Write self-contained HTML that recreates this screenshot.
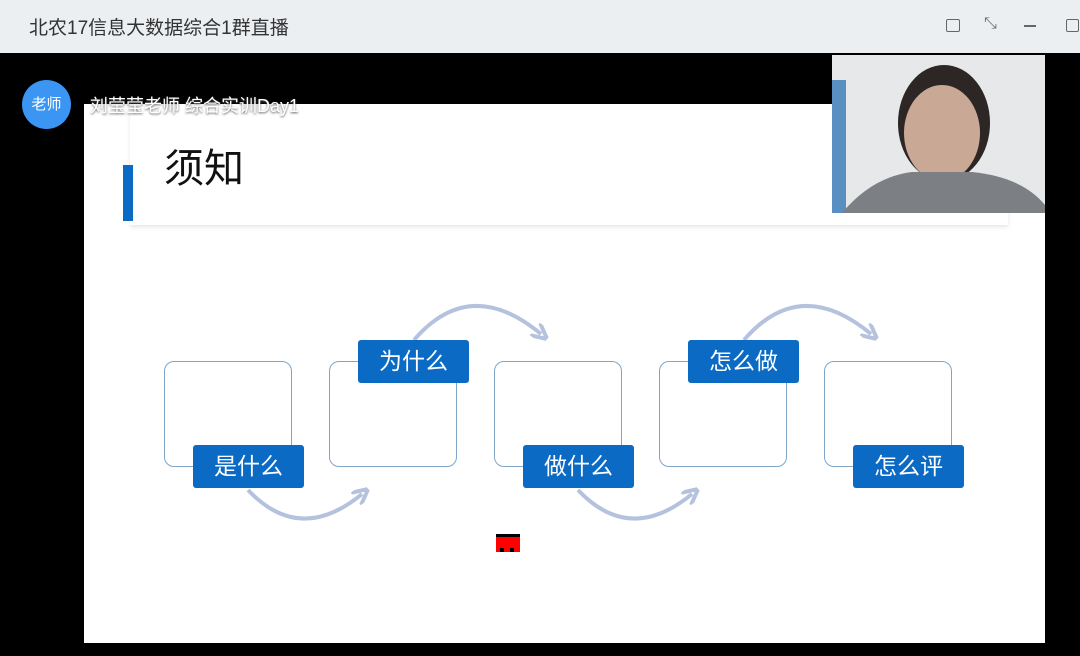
<!DOCTYPE html><html><head><meta charset="utf-8"><style>
body{margin:0;width:1080px;height:656px;overflow:hidden;background:#000;font-family:"Liberation Sans","Noto Sans CJK SC",sans-serif;position:relative}
.a{position:absolute}
.box{position:absolute;border:1.3px solid #7fa6c8;border-radius:10px;width:126px;height:104px;background:#fff;top:361px}
.lab{position:absolute;background:#0b6bc4;color:#fff;width:111px;height:43px;border-radius:3px;font-size:23px;line-height:43px;text-align:center}
</style></head><body>
<div class="a" style="left:0;top:0;width:1080px;height:53px;background:#eceff2"></div>
<div class="a" style="left:29px;top:13px;font-size:19px;color:#333">北农17信息大数据综合1群直播</div>
<div class="a" style="left:946px;top:19px;width:12px;height:11px;border:1.5px solid #666;border-radius:2px"></div>
<div class="a" style="left:984px;top:15px;font-size:16px;color:#666">⤡</div>
<div class="a" style="left:1024px;top:25px;width:12px;height:1.5px;background:#666"></div>
<div class="a" style="left:1066px;top:19px;width:11px;height:11px;border:1.5px solid #666;border-radius:2px"></div>
<div class="a" style="left:84px;top:104px;width:961px;height:539px;background:#fff"></div>
<div class="a" style="left:130px;top:104px;width:878px;height:121px;background:#fff;box-shadow:0 2px 4px rgba(0,0,0,0.1)"></div>
<div class="a" style="left:123px;top:165px;width:10px;height:56px;background:#0b6bc4"></div>
<div class="a" style="left:164px;top:136px;font-size:40px;color:#111">须知</div>
<div class="a" style="left:22px;top:80px;width:49px;height:49px;border-radius:50%;background:#3a96f2;color:#fff;font-size:15px;line-height:49px;text-align:center">老师</div>
<div class="a" style="left:90px;top:92px;font-size:18px;color:#fff;text-shadow:0 1px 2px #555">刘莹莹老师 综合实训Day1</div>
<svg class="a" style="left:0;top:0" width="1080" height="656">
<defs><marker id="m" markerWidth="4" markerHeight="4" refX="2" refY="2" orient="auto"><path d="M0,0 L4,2 L0,4" fill="none" stroke="#b5c2de" stroke-width="1"/></marker></defs>
<g fill="none" stroke="#b5c2de" stroke-width="4">
<path d="M248,490 Q300,545 362,494" marker-end="url(#m)"/>
<path d="M578,490 Q630,545 692,494" marker-end="url(#m)"/>
<path d="M414,340 Q470,275 541,334" marker-end="url(#m)"/>
<path d="M744,340 Q800,275 871,334" marker-end="url(#m)"/>
</g>
<rect x="496" y="534" width="24" height="18" fill="#f00"/><rect x="496" y="534" width="24" height="3" fill="#000"/><rect x="500" y="548" width="4" height="4" fill="#000"/><rect x="510" y="548" width="4" height="4" fill="#000"/>
</svg>
<div class="box" style="left:164px"></div><div class="box" style="left:329px"></div><div class="box" style="left:494px"></div><div class="box" style="left:659px"></div><div class="box" style="left:824px"></div>
<div class="lab" style="left:193px;top:445px">是什么</div>
<div class="lab" style="left:358px;top:340px">为什么</div>
<div class="lab" style="left:523px;top:445px">做什么</div>
<div class="lab" style="left:688px;top:340px">怎么做</div>
<div class="lab" style="left:853px;top:445px">怎么评</div>
<svg class="a" style="left:832px;top:55px" width="213" height="158">
<rect width="213" height="158" fill="#e6e8ea"/>
<rect x="0" y="25" width="14" height="133" fill="#5a8fc2"/>
<ellipse cx="112" cy="68" rx="46" ry="58" fill="#2c2624"/>
<ellipse cx="110" cy="78" rx="38" ry="48" fill="#c9a896"/>
<path d="M10,158 Q40,122 80,117 L140,117 Q190,122 213,150 L213,158Z" fill="#7c7f84"/>
</svg>
</body></html>
